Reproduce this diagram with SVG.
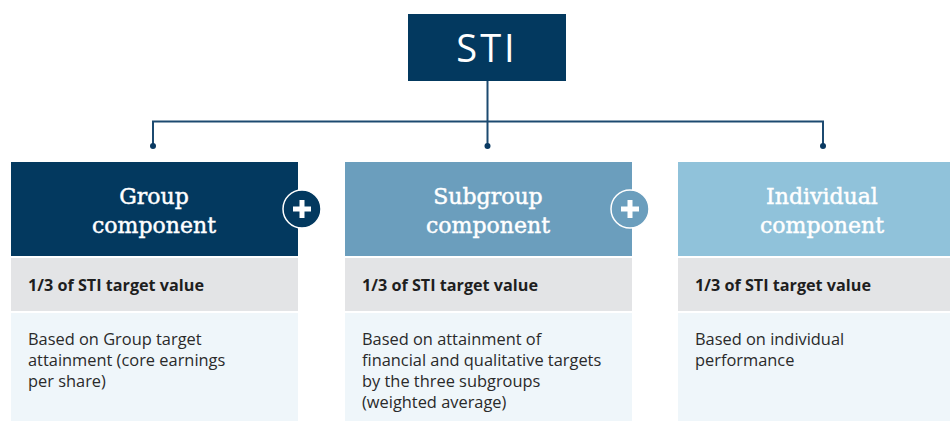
<svg xmlns="http://www.w3.org/2000/svg" width="950" height="421" viewBox="0 0 950 421">
<style>
.hdr{font-family:"DejaVu Serif","Liberation Serif",serif;font-size:22px;fill:#ffffff;stroke:#ffffff;stroke-width:0.45px;text-anchor:middle}
.val{font-family:"Open Sans","Noto Sans","Liberation Sans",sans-serif;font-size:16.2px;font-weight:bold;fill:#1e1e1e}
.body{font-family:"Open Sans","Noto Sans","Liberation Sans",sans-serif;font-size:16.4px;fill:#2a2a2a}
.grey{fill:#e3e4e6}
.light{fill:#eff6fa}
.conn{fill:none;stroke:#1c4a70;stroke-width:2}
.dot{fill:#0a3a62}
.plus{stroke:#ffffff;stroke-width:1.5}
</style>
<rect width="950" height="421" fill="#ffffff"/>
<g id="connectors">
<line class="conn" x1="487.5" y1="80" x2="487.5" y2="146"/>
<polyline class="conn" points="153,146 153,121.5 823,121.5 823,146"/>
<circle class="dot" cx="153" cy="146" r="3"/>
<circle class="dot" cx="487.5" cy="146" r="3"/>
<circle class="dot" cx="823" cy="146" r="3"/>
</g>
<g id="sti">
<rect x="408" y="14" width="158" height="67" fill="#03395f"/>
<text x="487" y="62" font-family="'Open Sans','Noto Sans','Liberation Sans',sans-serif" font-size="38" fill="#ffffff" text-anchor="middle" letter-spacing="3">STI</text>
</g>
<g id="group">
<rect x="11" y="162" width="287" height="94" fill="#03395f"/>
<text class="hdr" x="154" y="204">Group</text>
<text class="hdr" x="154" y="233">component</text>
<rect class="grey" x="11" y="258" width="287" height="53"/>
<text class="val" x="28" y="291">1/3 of STI target value</text>
<rect class="light" x="11" y="313" width="287" height="108"/>
<text class="body" x="28" y="345">Based on Group target</text>
<text class="body" x="28" y="366">attainment (core earnings</text>
<text class="body" x="28" y="387">per share)</text>
</g>
<g id="subgroup">
<rect x="345" y="162" width="287" height="94" fill="#6b9ebd"/>
<text class="hdr" x="488" y="204">Subgroup</text>
<text class="hdr" x="488" y="233">component</text>
<rect class="grey" x="345" y="258" width="287" height="53"/>
<text class="val" x="362" y="291">1/3 of STI target value</text>
<rect class="light" x="345" y="313" width="287" height="108"/>
<text class="body" x="362" y="345">Based on attainment of</text>
<text class="body" x="362" y="366">financial and qualitative targets</text>
<text class="body" x="362" y="387">by the three subgroups</text>
<text class="body" x="362" y="408">(weighted average)</text>
</g>
<g id="individual">
<rect x="678" y="162" width="272" height="94" fill="#90c2da"/>
<text class="hdr" x="822" y="204">Individual</text>
<text class="hdr" x="822" y="233">component</text>
<rect class="grey" x="678" y="258" width="272" height="53"/>
<text class="val" x="695" y="291">1/3 of STI target value</text>
<rect class="light" x="678" y="313" width="272" height="108"/>
<text class="body" x="695" y="345">Based on individual</text>
<text class="body" x="695" y="366">performance</text>
</g>
<g id="plus1">
<circle class="plus" cx="302" cy="209" r="19" fill="#03395f"/>
<path d="M293,209 H311 M302,200 V218" stroke="#ffffff" stroke-width="5"/>
</g>
<g id="plus2">
<circle class="plus" cx="630" cy="209" r="19" fill="#6b9ebd"/>
<path d="M621,209 H639 M630,200 V218" stroke="#ffffff" stroke-width="5"/>
</g>
</svg>
